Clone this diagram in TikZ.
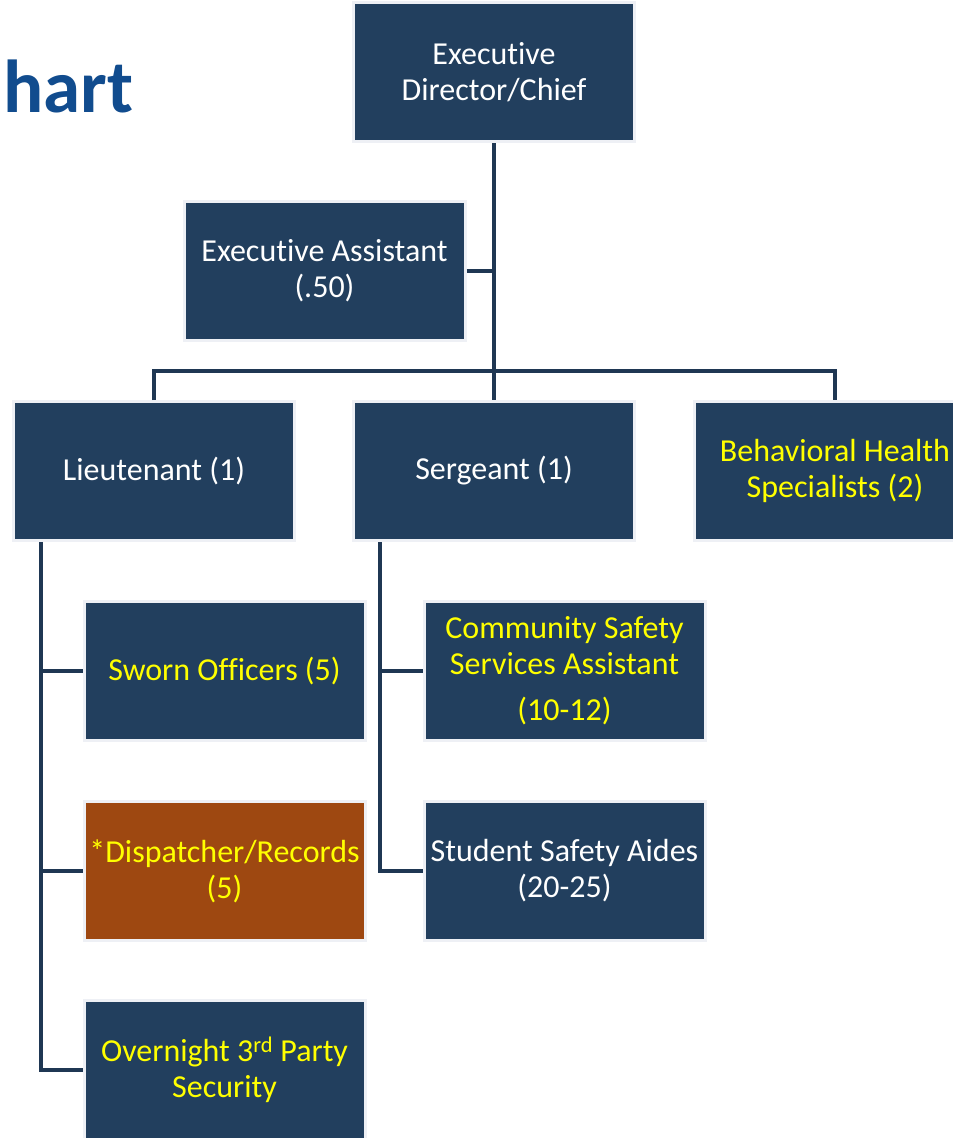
\documentclass[tikz,border=0pt]{standalone}
\usepackage{fontspec}
\setmainfont{Carlito}[Ligatures=NoCommon]
\usepackage{xcolor}
\usetikzlibrary{positioning}

\definecolor{navy}{HTML}{223F5E}
\definecolor{rust}{HTML}{9E4811}
\definecolor{rim}{HTML}{EEF0F5}
\definecolor{wire}{HTML}{1F3753}
\definecolor{titleblue}{HTML}{114C8E}
\definecolor{hilite}{HTML}{FFFF00}

\begin{document}
\begin{tikzpicture}[
    x=1pt, y=-1pt,
    post/.style={rectangle, draw=rim, line width=3pt, fill=navy, inner sep=0pt,
        minimum width=281pt, minimum height=139pt, align=center, text=white,
        font=\fontsize{32}{36}\selectfont},
    open/.style={post, text=hilite},
    link/.style={draw=wire, line width=4pt}
]

% page frame, the right box runs off the edge
\useasboundingbox (0,0) rectangle (953,1138);
\clip (0,0) rectangle (953,1138);
\fill[white] (0,0) rectangle (953,1138);

% Title (cut off at the left)
\node[font=\fontsize{75}{90}\selectfont\bfseries, text=titleblue, anchor=base west, inner sep=0pt] (title) at (3,112) {hart};

% Top of the chart
\node[post] (director) at (494,72) {Executive\\Director/Chief};
\node[post] (assistant) at (324.5,271) {Executive Assistant\\(.50)};

% Second row
\node[post] (lieutenant) at (154,471) {Lieutenant (1)};
\node[post] (sergeant) at (494,471) {Sergeant (1)};
\node[open] (behavioral) at (835,471) {Behavioral Health\\Specialists (2)};

% Under the lieutenant
\node[open] (sworn) at (224.5,671) {Sworn Officers (5)};
\node[open, fill=rust] (dispatch) at (224.5,871) {*Dispatcher/Records\\(5)};
\node[open] (overnight) at (224.5,1070) {Overnight 3\textsuperscript{rd} Party\\Security};

% Under the sergeant
\node[open] (community) at (564.5,671) {Community Safety\\Services Assistant\\[10pt](10-12)};
\node[post] (aides) at (564.5,871) {Student Safety Aides\\(20-25)};

% Connections
\coordinate (bar) at (494,371);
\coordinate (ltrunk) at ([xshift=28.5pt]lieutenant.south west);
\coordinate (strunk) at ([xshift=27.5pt]sergeant.south west);

\draw[link] (director.south) -- (bar);
\draw[link] (assistant.east) -- (assistant.east -| director.south);
\draw[link] (lieutenant.north) |- (bar) -| (behavioral.north);
\draw[link] (bar) -- (sergeant.north);

\draw[link] (ltrunk) |- (overnight.west);
\draw[link] (ltrunk |- sworn.west) -- (sworn.west);
\draw[link] (ltrunk |- dispatch.west) -- (dispatch.west);

\draw[link] (strunk) |- (aides.west);
\draw[link] (strunk |- community.west) -- (community.west);

\end{tikzpicture}
\end{document}
